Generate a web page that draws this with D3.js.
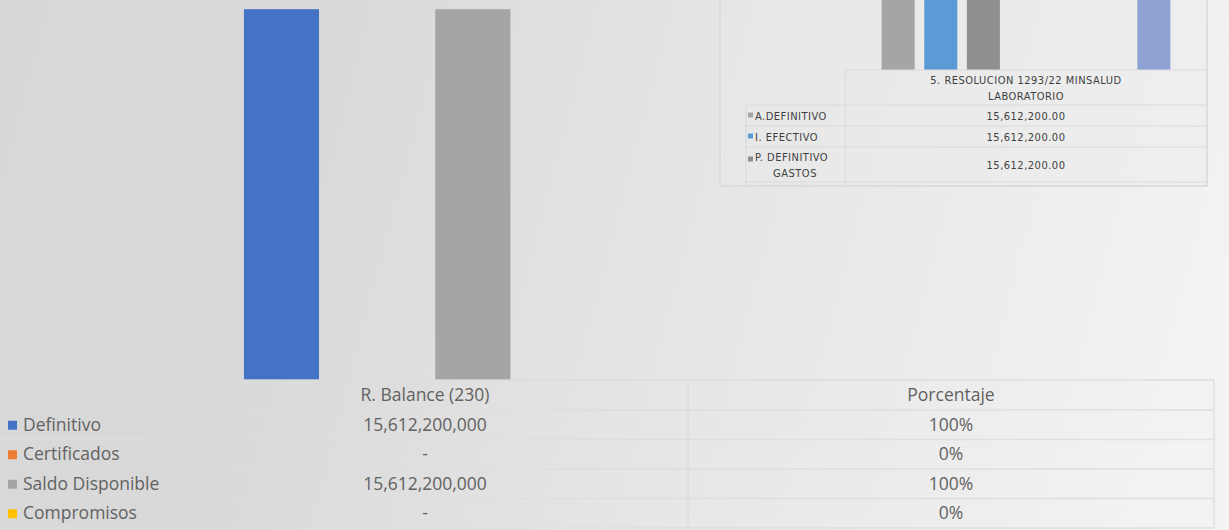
<!DOCTYPE html>
<html><head><meta charset="utf-8">
<script src="https://cdn.jsdelivr.net/npm/d3@7"></script>
<style>html,body{margin:0;padding:0;overflow:hidden;background:#e4e4e4}</style>
</head><body>
<script>
// ---- main chart data ----
const categories = ["R. Balance (230)", "Porcentaje"];
const seriesNames = ["Definitivo", "Certificados", "Saldo Disponible", "Compromisos"];
const seriesColors = ["#4472c4", "#ed7d31", "#a5a5a5", "#ffc000"];
const balanceValues = [15612200000, 0, 15612200000, 0];
const percentValues = [1, 0, 1, 0];
const yTicks = [0, 2e9, 4e9, 6e9, 8e9, 10e9, 12e9, 14e9, 16e9];

// ---- inset chart data ----
const insetCategory = ["5. RESOLUCION 1293/22 MINSALUD", "LABORATORIO"];
const insetSeries = ["A.DEFINITIVO", "I. EFECTIVO", "P. DEFINITIVO GASTOS", "s4", "s5", "s6", "s7"];
const insetRowLabels = [["A.DEFINITIVO"], ["I. EFECTIVO"], ["P. DEFINITIVO", "GASTOS"]];
const insetColors = ["#a5a5a5", "#5b9bd5", "#8f8f8f", "#ed7d31", "#ffc000", "#4472c4", "#8fa2d4"];
const insetValues = [15612200, 15612200, 15612200, 0, 0, 0, 15612200];

const W = 1229, H = 530;
const svg = d3.select("body").append("svg").attr("width", W).attr("height", H);
const defs = svg.append("defs");
const g = defs.append("linearGradient").attr("id", "bg").attr("gradientUnits", "userSpaceOnUse")
  .attr("x1", 0).attr("y1", 0).attr("x2", 1229).attr("y2", 320);
g.append("stop").attr("offset", 0).attr("stop-color", "#d8d8d8");
g.append("stop").attr("offset", 0.25).attr("stop-color", "#d9d9d9");
g.append("stop").attr("offset", 0.6).attr("stop-color", "#e6e6e6");
g.append("stop").attr("offset", 1).attr("stop-color", "#f3f3f3");
svg.append("rect").attr("width", W).attr("height", H).attr("fill", "url(#bg)");

const font = "'Open Sans', Lato, sans-serif";
const fs = 17.5;
const txtCol = "#626262";
const lineCol = "#dcdcdc";

// scales
const x0 = d3.scaleBand().domain(categories).range([162, 1214]);
const x1 = d3.scaleBand().domain(seriesNames).range([0, x0.bandwidth()]).paddingInner(0.215).paddingOuter(0.856);
const y = d3.scaleLinear().domain([0, yTicks[yTicks.length - 1]]).range([380, 0]);
const dataByCat = [balanceValues, percentValues];

const gBars = svg.append("g");
categories.forEach((c, ci) => {
  gBars.selectAll(null).data(seriesNames).join("rect")
    .attr("x", s => x0(c) + x1(s))
    .attr("width", x1.bandwidth())
    .attr("y", (s, i) => y(dataByCat[ci][i]))
    .attr("height", (s, i) => y(0) - y(dataByCat[ci][i]))
    .attr("fill", (s, i) => seriesColors[i]);
});

// data table
const rowTop = 380, headH = 30, rowH = 29.5;
const rows = seriesNames.length;
const tBottom = rowTop + headH + rows * rowH;
const gT = svg.append("g");
const hLines = [rowTop, ...d3.range(rows + 1).map(i => rowTop + headH + i * rowH)];
hLines.forEach((yy, i) => {
  gT.append("line").attr("x1", i === 0 ? x0.range()[0] : 0).attr("x2", 1214)
    .attr("y1", yy).attr("y2", yy).attr("stroke", i === 0 ? lineCol : "#dedede").attr("stroke-width", 1.3)
    .attr("opacity", 0.9);
});
[x0.range()[0], x0(categories[1]), x0.range()[1]].forEach(xx => {
  gT.append("line").attr("x1", xx).attr("x2", xx).attr("y1", rowTop).attr("y2", tBottom)
    .attr("stroke", lineCol).attr("stroke-width", 1.3);
});
const fmtBal = v => v === 0 ? "-" : d3.format(",")(v);
const fmtPct = d3.format(".0%");
categories.forEach((c, ci) => {
  const cx = x0(c) + x0.bandwidth() / 2;
  gT.append("text").attr("x", cx).attr("y", rowTop + headH / 2 + 6).attr("text-anchor", "middle")
    .attr("font-family", font).attr("font-size", fs).attr("fill", txtCol).text(c);
  dataByCat[ci].forEach((v, i) => {
    gT.append("text").attr("x", cx).attr("y", rowTop + headH + i * rowH + rowH / 2 + 6)
      .attr("text-anchor", "middle").attr("font-family", font).attr("font-size", fs).attr("fill", txtCol)
      .text(ci === 0 ? fmtBal(v) : fmtPct(v));
  });
});
seriesNames.forEach((s, i) => {
  const cy = rowTop + headH + i * rowH + rowH / 2;
  gT.append("rect").attr("x", 8).attr("y", cy - 4).attr("width", 9).attr("height", 9).attr("fill", seriesColors[i]);
  gT.append("text").attr("x", 23).attr("y", cy + 6).attr("font-family", font).attr("font-size", fs)
    .attr("fill", txtCol).text(s);
});

// ---- inset ----
const inset = svg.append("g");
defs.append("clipPath").attr("id", "insetClip").append("rect").attr("x", 720).attr("y", -2).attr("width", 488).attr("height", 188);
inset.append("rect").attr("x", 720).attr("y", -2).attr("width", 487).attr("height", 188)
  .attr("fill", "#ebebeb").attr("fill-opacity", 0.35).attr("stroke", "#d8d8d8").attr("stroke-width", 1.5);
const ic = inset.append("g").attr("clip-path", "url(#insetClip)");
const ix0 = d3.scaleBand().domain([insetCategory.join(" ")]).range([845, 1207]);
const ix1 = d3.scaleBand().domain(insetSeries).range([0, ix0.bandwidth()]).paddingInner(0.225).paddingOuter(0.86);
const iy = d3.scaleLinear().domain([0, 16000000]).range([70, -130]);
ic.selectAll(null).data(insetSeries).join("rect")
  .attr("x", s => ix0.range()[0] + ix1(s)).attr("width", ix1.bandwidth())
  .attr("y", (s, i) => iy(insetValues[i])).attr("height", (s, i) => iy(0) - iy(insetValues[i]))
  .attr("fill", (s, i) => insetColors[i]);
const iLine = "#dadada";
const iRowTops = [105, 126, 147, 182];
ic.append("line").attr("x1", 845).attr("x2", 1207).attr("y1", 70).attr("y2", 70).attr("stroke", iLine);
iRowTops.forEach(yy => ic.append("line").attr("x1", 746).attr("x2", 1207).attr("y1", yy).attr("y2", yy).attr("stroke", iLine));
ic.append("line").attr("x1", 845).attr("x2", 845).attr("y1", 70).attr("y2", 190).attr("stroke", iLine);
ic.append("line").attr("x1", 746).attr("x2", 746).attr("y1", 105).attr("y2", 190).attr("stroke", iLine);
const iFont = "'Liberation Sans Narrow', 'DejaVu Sans Condensed', 'Liberation Sans', sans-serif";
const iTxt = "#3f3f3f";
const ifs = 11, ils = 0.5;
const icx = ix0.range()[0] + ix0.bandwidth() / 2;
insetCategory.forEach((t, k) => {
  ic.append("text").attr("x", icx).attr("y", 84 + k * 16).attr("text-anchor", "middle")
    .attr("font-family", iFont).attr("font-size", ifs).attr("letter-spacing", ils).attr("fill", iTxt).text(t);
});
const fmtIns = d3.format(",.2f");
insetRowLabels.forEach((lab, i) => {
  const y0 = [105, 126, 147][i], y1 = [126, 147, 182][i];
  const cy = (y0 + y1) / 2;
  ic.append("text").attr("x", icx).attr("y", cy + 4).attr("text-anchor", "middle")
    .attr("font-family", iFont).attr("font-size", ifs).attr("letter-spacing", ils).attr("fill", iTxt).text(fmtIns(insetValues[i]));
  const startY = cy - (lab.length - 1) * 8 + 4;
  ic.append("rect").attr("x", 748).attr("y", (lab.length > 1 ? startY - 4 : cy - 3)).attr("width", 5).attr("height", 5)
    .attr("fill", insetColors[i]);
  lab.forEach((t, k) => {
    ic.append("text").attr("x", k === 0 ? 755 : 795).attr("y", startY + k * 16)
      .attr("text-anchor", k === 0 ? "start" : "middle")
      .attr("font-family", iFont).attr("font-size", ifs).attr("letter-spacing", ils).attr("fill", iTxt).text(t);
  });
});
</script>
</body></html>
